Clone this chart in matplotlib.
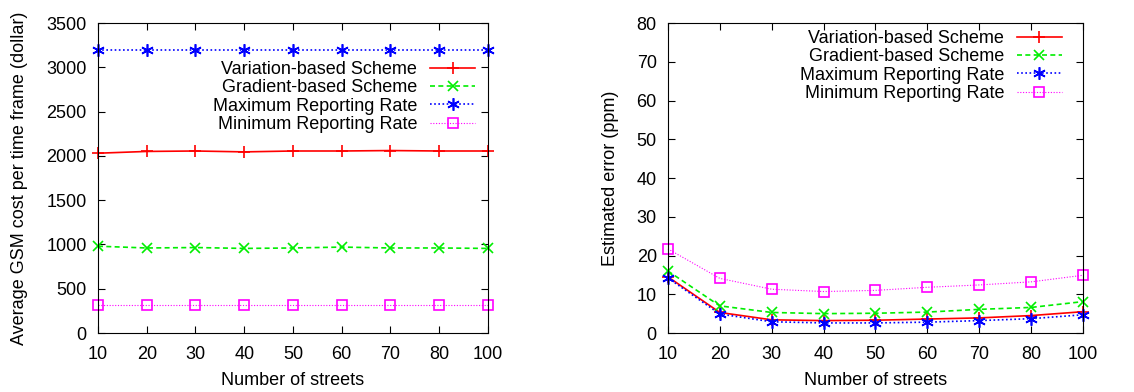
import matplotlib
matplotlib.use("Agg")
import matplotlib.pyplot as plt
import numpy as np

plt.rcParams['font.family'] = ['Liberation Sans', 'DejaVu Sans']
plt.rcParams['font.size'] = 13

# x categories (evenly spaced, 90 is missing in the source)
streets = ["10", "20", "30", "40", "50", "60", "70", "80", "100"]

# left panel: average GSM cost per time frame (dollar)
cost_variation = [2030, 2050, 2055, 2045, 2055, 2055, 2060, 2055, 2055]
cost_gradient = [980, 960, 965, 955, 960, 970, 960, 960, 955]
cost_max = [3200, 3200, 3200, 3200, 3200, 3200, 3200, 3200, 3200]
cost_min = [320, 320, 320, 320, 320, 320, 320, 320, 320]

# right panel: estimated error (ppm)
err_variation = [14.5, 5.3, 3.4, 3.2, 3.3, 3.6, 3.9, 4.5, 5.5]
err_gradient = [16.0, 7.0, 5.3, 5.0, 5.1, 5.4, 6.1, 6.6, 8.1]
err_max = [14.2, 4.9, 2.9, 2.6, 2.6, 2.8, 3.2, 3.7, 4.7]
err_min = [21.7, 14.1, 11.3, 10.7, 11.0, 11.8, 12.4, 13.2, 14.9]

labels = ["Variation-based Scheme", "Gradient-based Scheme",
          "Maximum Reporting Rate", "Minimum Reporting Rate"]
styles = [
    dict(color='#ff0000', linestyle='-', linewidth=1.2, marker='+', markersize=9, markeredgewidth=1.2),
    dict(color='#00ee00', linestyle=(0, (3, 2)), linewidth=1.2, marker='x', markersize=7, markeredgewidth=1.2),
    dict(color='#0000ff', linestyle=(0, (1, 1.5)), linewidth=1.2, marker=(6, 2, 0), markersize=9, markeredgewidth=1.2),
    dict(color='#ff00ff', linestyle=(0, (1, 1.5)), linewidth=0.8, marker='s', markersize=7,
         markerfacecolor='none', markeredgewidth=1.2),
]

fig = plt.figure(figsize=(11.34, 3.92), dpi=100)
ax1 = fig.add_axes([0.0864, 0.1505, 0.3439, 0.7908])
ax2 = fig.add_axes([0.589, 0.1505, 0.366, 0.7908])

x = np.arange(len(streets))


def draw(ax, series, ylim, yticks, ylabel, anchor):
    for vals, lab, st in zip(series, labels, styles):
        ax.plot(x, vals, label=lab, clip_on=False, **st)
    ax.set_xlim(0, len(streets) - 1)
    ax.set_ylim(*ylim)
    ax.set_xticks(x)
    ax.set_xticklabels(streets)
    ax.set_yticks(yticks)
    ax.tick_params(direction='in', top=True, right=True, length=5)
    ax.tick_params(axis='y', pad=8)
    ax.tick_params(axis='x', pad=9)
    ax.set_xlabel("Number of streets", labelpad=7)
    ax.set_ylabel(ylabel, labelpad=13)
    ax.legend(loc='upper right', bbox_to_anchor=anchor, frameon=False,
              markerfirst=False, borderpad=0, borderaxespad=0,
              labelspacing=0.07, handlelength=2.5, handletextpad=0.7)


draw(ax1, [cost_variation, cost_gradient, cost_max, cost_min],
     (0, 3500), np.arange(0, 3501, 500),
     "Average GSM cost per time frame (dollar)", (0.967, 0.877))
draw(ax2, [err_variation, err_gradient, err_max, err_min],
     (0, 80), np.arange(0, 81, 10),
     "Estimated error (ppm)", (0.949, 0.977))

fig.savefig("out.png", dpi=100)
